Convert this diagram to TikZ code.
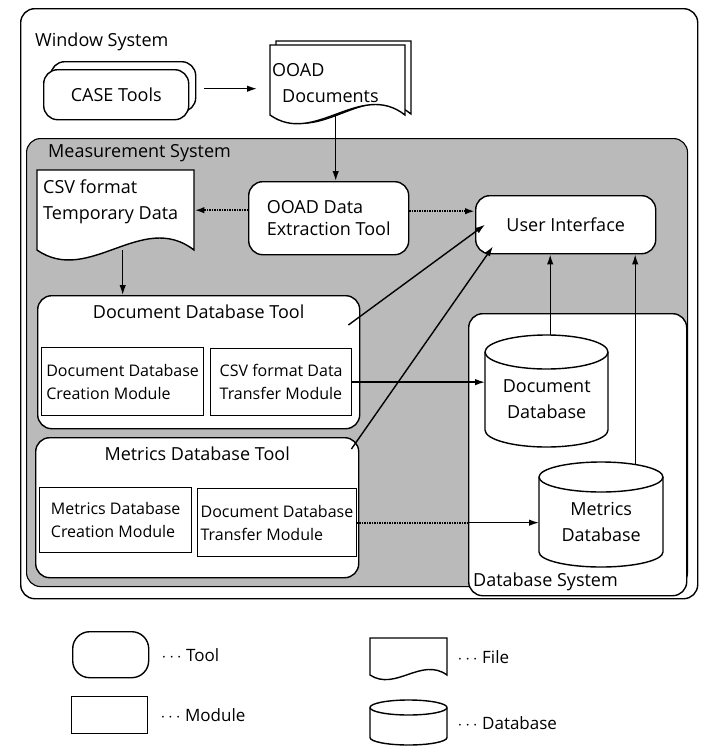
\documentclass[tikz,border=0pt]{standalone}
\usepackage{fontspec}
\setmainfont{Open Sans}
\usetikzlibrary{shapes.geometric,arrows.meta,positioning,calc}

% file outline: left, top, width, side height
\newcommand\docshape[4]{%
  \filldraw[line width=1.4pt,fill=white] (#1,#2) -- ({#1+#3},#2) -- ({#1+#3},{#2+#4})
    .. controls ({#1+0.67*#3},{#2+0.5*#4}) and ({#1+0.33*#3},{#2+1.45*#4})
    .. (#1,{#2+#4}) -- cycle;}
% database outline: left, top, width, height, ellipse y radius
\newcommand\dbshape[5]{%
  \filldraw[line width=1.4pt,fill=white] (#1,{#2+#5}) -- (#1,{#2+#4-#5})
    arc[start angle=180,end angle=360,x radius={#3/2*1pt},y radius={#5*1pt}]
    -- ({#1+#3},{#2+#5})
    arc[start angle=0,end angle=180,x radius={#3/2*1pt},y radius={#5*1pt}] -- cycle;
  \draw[line width=1.4pt] (#1,{#2+#5})
    arc[start angle=180,end angle=360,x radius={#3/2*1pt},y radius={#5*1pt}];}

\tikzset{
  every node/.style={font=\fontsize{18}{22}\selectfont},
  frame/.style={draw,line width=1.4pt,rounded corners=14pt,anchor=north west},
  tool/.style={draw,fill=white,line width=1.4pt,rounded corners=14pt,anchor=north west,align=left},
  modbox/.style={draw,fill=white,line width=1.3pt,anchor=north west,align=left,inner sep=3pt,
    font=\fontsize{16}{23}\selectfont},
  fileb/.style={inner sep=0pt,anchor=north west},
  lbl/.style={inner sep=0pt,align=left,font=\fontsize{18}{26}\selectfont},
  lgtxt/.style={inner sep=0pt,font=\fontsize{17}{20}\selectfont},
  arr/.style={-{Latex[length=10pt,width=6.5pt]},line width=1.4pt},
  dotln/.style={line width=2.2pt,dash pattern=on 1.5pt off 1pt},
  dotarr/.style={dotln,-{Latex[length=10pt,width=6.5pt]}}
}

\begin{document}
\begin{tikzpicture}[x=1pt,y=-1pt]
\fill[white] (0,0) rectangle (701,747);
\useasboundingbox (0,0) rectangle (701,747);

% systems
\node[frame,fill=white,minimum width=677pt,minimum height=590pt,
  label={[lbl,anchor=north west,xshift=15pt,yshift=-25pt]north west:Window System}] (win) at (20,8) {};
\node[frame,fill=black!27,line width=1.1pt,minimum width=661pt,minimum height=448pt,
  label={[lbl,anchor=north west,xshift=22pt,yshift=-6pt]north west:Measurement System}] (meas) at (26,138) {};
\node[frame,fill=white,minimum width=218pt,minimum height=282pt,
  label={[lbl,anchor=south west,xshift=5pt,yshift=5pt]south west:Database System}] (dbsys) at (468,313) {};

% window system
\node[tool,minimum width=145pt,minimum height=50pt] (caseb) at (50,61) {};
\node[tool,minimum width=145pt,minimum height=50pt] (case) at (43,69) {CASE Tools};
\docshape{276}{41}{135}{73}
\docshape{270}{45}{135}{70}
\node[fileb,minimum width=135pt,minimum height=70pt,
  label={[lbl,anchor=north west,xshift=2pt,yshift=-18pt]north west:{OOAD\\\hspace{10pt}Documents}}] (docs) at (270,45) {};

% measurement system
\docshape{37}{170}{157}{80}
\node[fileb,minimum width=157pt,minimum height=80pt,
  label={[lbl,anchor=north west,xshift=6pt,yshift=-10pt]north west:{CSV format\\Temporary Data}}] (csv) at (37,170) {};
\node[tool,minimum width=160pt,minimum height=73pt] (ext) at (248,181) {OOAD Data\\Extraction Tool};
\node[tool,minimum width=180pt,minimum height=58pt,align=center] (ui) at (475,195) {User Interface};

\node[tool,minimum width=322pt,minimum height=133pt,
  label={[lbl,anchor=north,yshift=-10pt]north:Document Database Tool}] (ddt) at (37,295) {};
\node[modbox,minimum width=162pt,minimum height=68pt] (ddcm) at (41,347) {Document Database\\Creation Module};
\node[modbox,minimum width=141pt,minimum height=67pt] (csvtm) at (210,348) {CSV format Data\\Transfer Module};

\node[tool,minimum width=323pt,minimum height=140pt,
  label={[lbl,anchor=north,yshift=-10pt]north:Metrics Database Tool}] (mdt) at (35,437) {};
\node[modbox,minimum width=152pt,minimum height=65pt] (mdcm) at (39,487) {Metrics Database\\Creation Module};
\node[modbox,minimum width=156pt,minimum height=68pt] (ddtm) at (197,488) {Document Database\\Transfer Module};

% database system
\dbshape{485}{335}{123}{112}{17}
\node[fileb,minimum width=123pt,minimum height=112pt,
  label={[lbl,align=center,anchor=center,yshift=-8pt]center:{Document\\Database}}] (docdb) at (485,335) {};
\dbshape{539}{462}{124}{105}{15}
\node[fileb,minimum width=124pt,minimum height=105pt,
  label={[lbl,align=center,anchor=center,yshift=-7pt]center:{Metrics\\Database}}] (metdb) at (539,462) {};

% connectors
\draw[arr] ([xshift=15pt,yshift=6pt]case.east) -- ([xshift=-13pt,yshift=6pt]case.east -| docs.west);
\draw[arr] ([xshift=-2pt]docs.south) -- ([xshift=-2pt]docs.south |- ext.north);
\draw[dotarr] (ext.west |- csv.east) -- (csv.east);
\draw[dotarr] ([yshift=7pt]ext.east) -- ([yshift=7pt]ext.east -| ui.west);
\draw[arr] ([xshift=7pt]csv.south) -- ([xshift=7pt]csv.south |- ddt.north);
\draw[arr] ([xshift=-12pt,yshift=-30pt]ddt.north east) -- ([xshift=10pt]ui.west);
\draw[arr] ([xshift=-8pt,yshift=-12pt]mdt.north east) -- ([xshift=18pt,yshift=8pt]ui.south west);
\draw[arr] (csvtm.east) -- (csvtm.east -| docdb.west);
\draw[dotln] (ddtm.east) -- (ddtm.east -| dbsys.west);
\draw[arr] (ddtm.east -| dbsys.west) -- (ddtm.east -| metdb.west);
\draw[arr] ([xshift=3.5pt]docdb.north) -- ([xshift=3.5pt]docdb.north |- ui.south);
\draw[arr] ([xshift=34pt,yshift=-2.5pt]metdb.north) -- ([xshift=34pt]metdb.north |- ui.south);

% legend
\node[tool,rounded corners=17pt,minimum width=76pt,minimum height=46pt] (lgtool) at (72,631) {};
\node[lgtxt,right=12pt of lgtool] (lgtooltxt) {$\cdots$ Tool};
\node[modbox,minimum width=76pt,minimum height=37pt] (lgmod) at (71,696) {};
\node[lgtxt,right=12pt of lgmod] (lgmodtxt) {$\cdots$ Module};
\docshape{370}{638}{77}{37}
\node[fileb,minimum width=77pt,minimum height=37pt] (lgfile) at (370,638) {};
\node[lgtxt,right=10pt of lgfile] (lgfiletxt) {$\cdots$ File};
\dbshape{370}{700}{77}{45}{7.5}
\node[fileb,minimum width=77pt,minimum height=45pt] (lgdb) at (370,700) {};
\node[lgtxt,right=10pt of lgdb] (lgdbtxt) {$\cdots$ Database};
\end{tikzpicture}
\end{document}
